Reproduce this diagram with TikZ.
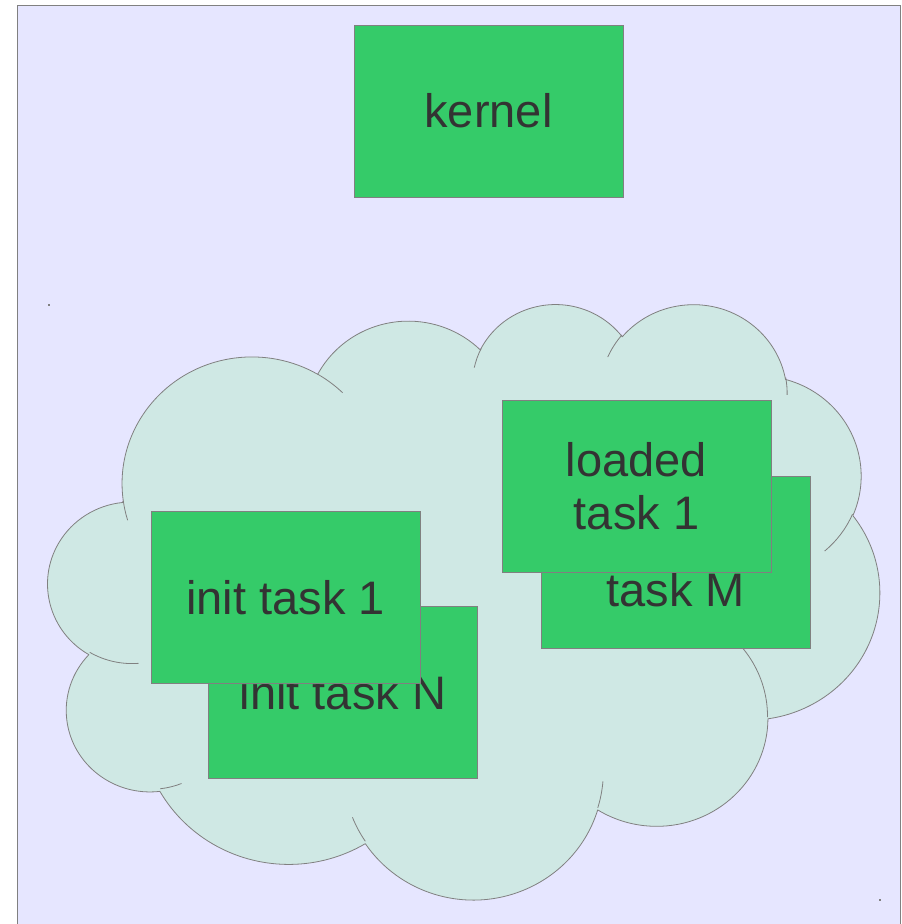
\documentclass[tikz,border=0pt]{standalone}
\usepackage{fontspec}
\setmainfont{Liberation Sans}
\definecolor{bgfill}{RGB}{230,230,255}
\definecolor{edge}{RGB}{128,128,128}
\definecolor{cloudfill}{RGB}{207,232,228}
\definecolor{boxfill}{RGB}{53,203,105}
\definecolor{txt}{RGB}{51,51,51}
% visual angles (OOXML) -> parametric angles for an ellipse arc
\newcommand\defarc[6]{%
  \pgfmathsetmacro#1{atan2(#3*sin(#5),#4*cos(#5))}%
  \pgfmathsetmacro#2{atan2(#3*sin(#5+#6),#4*cos(#5+#6))}%
  \pgfmathsetmacro#2{#2<#1 ? #2+360 : #2}%
}
\defarc\cAs\cAe{67.53}{91.90}{-190.4875}{123.7805}
\defarc\cBs\cBe{53.33}{72.67}{-144.1024}{89.9452}
\defarc\cCs\cCe{43.65}{59.45}{-145.8079}{99.7230}
\defarc\cDs\cDe{48.57}{65.95}{-130.9861}{117.2417}
\defarc\cEs\cEe{53.33}{72.73}{-78.7089}{109.0269}
\defarc\cFs\cFe{67.75}{92.20}{-46.2673}{130.2690}
\defarc\cGs\cGe{57.85}{78.67}{0.6250}{114.0333}
\defarc\cHs\cHe{67.52}{92.15}{22.4516}{115.1726}
\defarc\cIs\cIe{77.20}{105.43}{66.2426}{75.7110}
\defarc\cJs\cJe{43.60}{59.18}{-274.9421}{146.7356}
\defarc\cKs\cKe{43.45}{59.45}{-246.8285}{152.5226}
\defarc\tAs\tAe{43.45}{59.45}{86.7420}{26.4295}
\defarc\tBs\tBe{43.60}{59.18}{73.6105}{11.4475}
\defarc\tCs\tCe{67.52}{92.15}{137.6242}{14.0811}
\defarc\tDs\tDe{67.52}{92.15}{6.4533}{15.9984}
\defarc\tEs\tEe{57.85}{78.67}{-70.2924}{70.9174}
\defarc\tFs\tFe{53.33}{72.73}{30.3180}{27.7515}
\defarc\tGs\tGe{48.57}{65.95}{-13.7443}{14.8589}
\defarc\tHs\tHe{48.57}{65.95}{-149.1815}{18.1954}
\defarc\tIs\tIe{43.65}{59.45}{-163.4943}{17.6864}
\defarc\tJs\tJe{67.53}{91.90}{-66.7070}{12.3194}
\defarc\tKs\tKe{67.53}{91.90}{157.6544}{11.8582}
\tikzset{
  taskbox/.style={draw=edge, line width=0.8pt, fill=boxfill,
    minimum width=269pt, minimum height=172pt, inner sep=0pt,
    text=txt, font=\fontsize{47}{53}\selectfont, align=center},
  cloudline/.style={draw=edge, line width=0.8pt, line join=round},
}
\begin{document}
\begin{tikzpicture}[x=1pt, y=-1pt]
\useasboundingbox (0,0) rectangle (902,924);
% background sheet
\fill[bgfill] (17.5,5.5) rectangle (900.5,924);
\draw[edge, line width=0.9pt] (17.5,924) -- (17.5,5.5) -- (900.5,5.5) -- (900.5,924);
% cloud
\begin{scope}[shift={(48.2,302.6)}, x=1.9243pt, y=-1.378pt]
\filldraw[cloudline, fill=cloudfill] (39,143.7)
  arc[x radius=67.53, y radius=91.90, start angle=\cAs, end angle=\cAe]
  arc[x radius=53.33, y radius=72.67, start angle=\cBs, end angle=\cBe]
  arc[x radius=43.65, y radius=59.45, start angle=\cCs, end angle=\cCe]
  arc[x radius=48.57, y radius=65.95, start angle=\cDs, end angle=\cDe]
  arc[x radius=53.33, y radius=72.73, start angle=\cEs, end angle=\cEe]
  arc[x radius=67.75, y radius=92.20, start angle=\cFs, end angle=\cFe]
  arc[x radius=57.85, y radius=78.67, start angle=\cGs, end angle=\cGe]
  arc[x radius=67.52, y radius=92.15, start angle=\cHs, end angle=\cHe]
  arc[x radius=77.20, y radius=105.43, start angle=\cIs, end angle=\cIe]
  arc[x radius=43.60, y radius=59.18, start angle=\cJs, end angle=\cJe]
  arc[x radius=43.45, y radius=59.45, start angle=\cKs, end angle=\cKe]
  -- cycle;
\draw[cloudline]
  (46.93,261.77) arc[x radius=43.45, y radius=59.45, start angle=\tAs, end angle=\tAe]
  (69.28,348.99) arc[x radius=43.60, y radius=59.18, start angle=\tBs, end angle=\tBe]
  (164.78,390.90) arc[x radius=67.52, y radius=92.15, start angle=\tCs, end angle=\tCe]
  (288.27,347.51) arc[x radius=67.52, y radius=92.15, start angle=\tDs, end angle=\tDe]
  (341.29,229.54) arc[x radius=57.85, y radius=78.67, start angle=\tEs, end angle=\tEe]
  (417.98,153.54) arc[x radius=53.33, y radius=72.73, start angle=\tFs, end angle=\tFe]
  (383.24,54.26) arc[x radius=48.57, y radius=65.95, start angle=\tGs, end angle=\tGe]
  (290.78,39.52) arc[x radius=48.57, y radius=65.95, start angle=\tHs, end angle=\tHe]
  (221.41,47.20) arc[x radius=43.65, y radius=59.45, start angle=\tIs, end angle=\tIe]
  (140.00,51.92) arc[x radius=67.53, y radius=91.90, start angle=\tJs, end angle=\tJe]
  (41.27,157.89) arc[x radius=67.53, y radius=91.90, start angle=\tKs, end angle=\tKe];
\end{scope}
% bounding-box corner marks of the cloud
\fill[edge] (48,304) rectangle (49.5,305.5);
\fill[edge] (879.3,899.3) rectangle (880.8,900.8);
% boxes
\node[taskbox] (initN) at (343,692.5) {init task N};
\node[taskbox] (init1) at (285.5,597.5) {init task 1};
\node[taskbox] (taskM) at (675.5,562.5) {\raisebox{-27pt}[\height][\depth]{task M}};
\node[taskbox] (loaded1) at (636.5,486) {loaded\\task 1};
\node[taskbox] (kernel) at (488.5,111) {kernel};
\end{tikzpicture}
\end{document}
